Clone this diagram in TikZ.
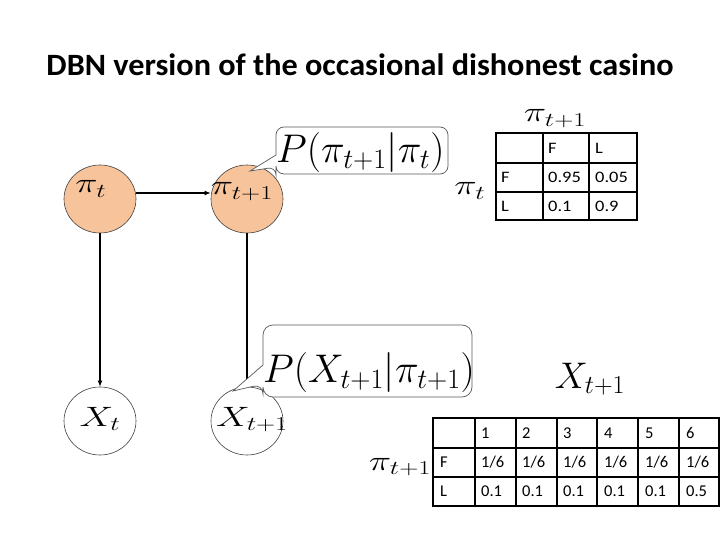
\RequirePackage{fix-cm}
\documentclass[tikz,border=0pt]{standalone}
\usepackage{fontspec}
\setsansfont{Carlito}
\usetikzlibrary{arrows.meta,shapes.geometric}
\definecolor{peach}{RGB}{247,195,155}
\definecolor{calloutgray}{RGB}{90,90,90}
\begin{document}
\begin{tikzpicture}[x=1pt,y=-1pt,
  statenode/.style={ellipse,draw=black!75,line width=0.6pt,minimum width=72pt,minimum height=68pt,inner sep=0pt},
  arr/.style={-{Latex[length=6pt,width=5pt]},line width=1.4pt},
  mlbl/.style={font=\fontsize{28}{30}\selectfont,anchor=base,inner sep=0pt,xscale=1.35},
  bigm/.style={font=\fontsize{40}{42}\selectfont,anchor=base west,inner sep=0pt},
  callout/.style={draw=calloutgray,line width=0.7pt,fill=white},
  tbl/.style={line width=1.5pt,line cap=rect},
  cella/.style={font=\sffamily\fontsize{16}{18}\selectfont,anchor=west,inner sep=0pt,xscale=1.15},
  cellb/.style={font=\sffamily\fontsize{16.5}{18}\selectfont,anchor=west,inner sep=0pt}]
\useasboundingbox (0,0) rectangle (720,540);
\fill[white] (0,0) rectangle (720,540);

% title
\node[font=\sffamily\bfseries\fontsize{31}{34}\selectfont,anchor=base,inner sep=0pt,xscale=1.04] (title) at (360,76) {DBN version of the occasional dishonest casino};

% graph
\node[statenode,fill=peach] (pt) at (100,199) {};
\node[statenode,fill=peach] (pt1) at (247,199) {};
\node[statenode] (xt) at (100,421) {};
\node[statenode] (xt1) at (247,421) {};

\draw[arr] ([yshift=6pt]pt.east) -- ([yshift=6pt]pt1.west);
\draw[arr] (pt) -- (xt);
\draw[arr] (pt1) -- (xt1);

\node[mlbl] (ptlab) at (91,193) {$\pi_t$};
\node[mlbl] (pt1lab) at (242,195) {$\pi_{t+1}$};
\node[mlbl] (xtlab) at (100,426) {$X_t$};
\node[mlbl] (xt1lab) at (252,426) {$X_{t+1}$};

% callout 1
\draw[callout] (276,155) [rounded corners=8pt] -- (276,127) -- (448,127) -- (448,174) -- (276,174) -- (276,167) [sharp corners] -- (250,171) -- cycle;
\node[bigm] (cp1) at (276,163) {$P(\pi_{t+1}|\pi_t)$};

% callout 2
\draw[callout] (263,365) [rounded corners=10pt] -- (263,325) -- (472,325) -- (472,397) -- (263,397) -- (263,384) [sharp corners] -- (233,391) -- cycle;
\begin{scope}
\clip (200,300) rectangle (472,420);
\node[bigm] (cp2) at (263,382) {$P(X_{t+1}|\pi_{t+1})$};
\end{scope}

% table 1
\node[mlbl] (t1top) at (555,122) {$\pi_{t+1}$};
\node[mlbl] (t1left) at (470,195) {$\pi_t$};
\draw[tbl] (496,133) rectangle (637,220);
\foreach \x in {543,589} \draw[tbl] (\x,133) -- (\x,220);
\foreach \y in {163,192} \draw[tbl] (496,\y) -- (637,\y);
\foreach \c/\r/\t in {1/0/F,2/0/L,0/1/F,1/1/0.95,2/1/0.05,0/2/L,1/2/0.1,2/2/0.9}
  \node[cella] (ta-\r-\c) at (496+47*\c+5,148+29*\r) {\t};

% table 2
\node[font=\fontsize{37}{40}\selectfont,anchor=base,inner sep=0pt] (t2top) at (590,388) {$X_{t+1}$};
\node[mlbl] (t2left) at (400,470) {$\pi_{t+1}$};
\draw[tbl] (433,418) rectangle (719,506);
\foreach \x in {475,516,557,597,638,679} \draw[tbl] (\x,418) -- (\x,506);
\foreach \y in {448,477} \draw[tbl] (433,\y) -- (719,\y);
\foreach \c/\r/\t in {1/0/1,2/0/2,3/0/3,4/0/4,5/0/5,6/0/6,
  0/1/F,1/1/1\slash 6,2/1/1\slash 6,3/1/1\slash 6,4/1/1\slash 6,5/1/1\slash 6,6/1/1\slash 6,
  0/2/L,1/2/0.1,2/2/0.1,3/2/0.1,4/2/0.1,5/2/0.1,6/2/0.5}
  \node[cellb] (tb-\r-\c) at (433+41*\c+7,433+29.3*\r) {\t};
\end{tikzpicture}
\end{document}
